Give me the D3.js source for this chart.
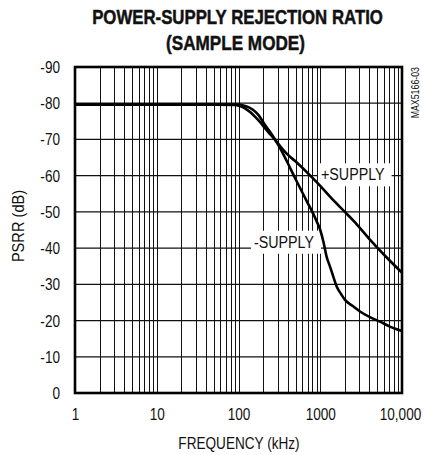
<!DOCTYPE html>
<html>
<head>
<meta charset="utf-8">
<script src="https://cdn.jsdelivr.net/npm/d3@7"></script>
<style>
  html, body { margin: 0; padding: 0; background: #fff; }
  svg { display: block; }
  text { font-family: "Liberation Sans", Arial, sans-serif; fill: #111; }
</style>
</head>
<body>
<svg id="chart" width="424" height="455"></svg>
<script>
// +SUPPLY curve (frequency in kHz, PSRR in dB)
const plusFreq = [1, 10, 50, 90, 104, 120, 140, 159, 185, 211, 245, 280, 322, 400, 500, 750, 1000, 1316, 2000, 2540, 4000, 6500, 10000];
const plusPsrr = [-79.6, -79.6, -79.6, -79.5, -79.2, -78.6, -77.5, -76.3, -74.7, -73.1, -71.4, -69.9, -68.2, -65.8, -63.9, -60.1, -57.2, -54.2, -50.0, -47.6, -42.5, -37.4, -33.2];

// -SUPPLY curve
const minusFreq = [1, 10, 50, 100, 115, 130, 150, 175, 211, 245, 280, 330, 400, 500, 600, 700, 800, 900, 1000, 1100, 1200, 1316, 1450, 1589, 1800, 2009, 2500, 3064, 4000, 5380, 7000, 10000];
const minusPsrr = [-79.6, -79.6, -79.6, -79.6, -79.4, -79.0, -78.2, -76.8, -74.0, -72.0, -70.0, -67.2, -63.5, -59.0, -55.5, -52.5, -50.0, -47.5, -45.0, -41.5, -37.5, -34.9, -32.0, -29.4, -27.3, -25.7, -24.0, -22.5, -21.0, -19.7, -18.4, -17.1];

const xTickValues = [1, 10, 100, 1000, 10000];
const xTickLabels = ["1", "10", "100", "1000", "10,000"];
const yTickValues = [0, -10, -20, -30, -40, -50, -60, -70, -80, -90];

// Series labels: text, position (kHz, dB)
const seriesLabels = [
  { text: "+SUPPLY", f: 2500, db: -60.4 },
  { text: "-SUPPLY", f: 360, db: -41.8 },
];

// the original uses a condensed face; squeeze the installed one horizontally
const NARROW = 0.8;
function condense(sel, ratio) {
  sel.each(function () {
    const el = d3.select(this);
    const x0 = +el.attr("x") || 0;
    const t = el.attr("transform") || "";
    el.attr("transform", `${t} scale(${ratio},1)`).attr("x", x0 / ratio);
  });
}
// squeeze to an exact width
function fitWidth(sel, width) {
  sel.each(function () {
    condense(d3.select(this), width / this.getComputedTextLength());
  });
}

const svg = d3.select("#chart");

const x = d3.scaleLog().domain([1, 10000]).range([75, 402]);
const y = d3.scaleLinear().domain([0, -90]).range([393, 67]);

// Title
svg.append("text")
  .attr("transform", "translate(237.5,24)")
  .attr("text-anchor", "middle")
  .attr("font-size", 21).attr("font-weight", "bold")
  .attr("stroke", "#111").attr("stroke-width", 0.5)
  .text("POWER-SUPPLY REJECTION RATIO")
  .call(fitWidth, 291);

svg.append("text")
  .attr("transform", "translate(235.5,50)")
  .attr("text-anchor", "middle")
  .attr("font-size", 21).attr("font-weight", "bold")
  .attr("stroke", "#111").attr("stroke-width", 0.5)
  .text("(SAMPLE MODE)")
  .call(fitWidth, 139);

// Grid
const grid = svg.append("g").attr("stroke", "#111").attr("stroke-width", 1);

grid.selectAll("line.v")
  .data(x.ticks())
  .join("line")
  .attr("class", "v")
  .attr("x1", d => Math.round(x(d)) + 0.5).attr("x2", d => Math.round(x(d)) + 0.5)
  .attr("y1", y(-90)).attr("y2", y(0));

grid.selectAll("line.h")
  .data(yTickValues)
  .join("line")
  .attr("class", "h")
  .attr("x1", x(1)).attr("x2", x(10000))
  .attr("y1", d => y(d)).attr("y2", d => y(d))
  .attr("stroke-width", 1.3);

// Series labels with white boxes over the grid (curves drawn on top)
const LABEL_SQUEEZE = 0.84;
const labels = svg.append("g")
  .selectAll("g")
  .data(seriesLabels)
  .join("g")
  .attr("transform", d => `translate(${x(d.f)},${y(d.db)})`);

labels.append("text")
  .attr("text-anchor", "middle")
  .attr("dy", "0.36em")
  .attr("font-size", 17)
  .text(d => d.text)
  .each(function () {
    const b = this.getBBox();
    d3.select(this.parentNode).insert("rect", "text")
      .attr("x", b.x * LABEL_SQUEEZE - 3).attr("y", b.y - 2)
      .attr("width", b.width * LABEL_SQUEEZE + 10).attr("height", b.height + 4)
      .attr("fill", "#fff");
  })
  .call(condense, LABEL_SQUEEZE);

// Curves
const line = d3.line()
  .x(d => x(d[0]))
  .y(d => y(d[1]))
  .curve(d3.curveMonotoneX);

const curves = [
  d3.zip(plusFreq, plusPsrr),
  d3.zip(minusFreq, minusPsrr),
];

svg.append("g")
  .selectAll("path")
  .data(curves)
  .join("path")
  .attr("d", line)
  .attr("fill", "none")
  .attr("stroke", "#000")
  .attr("stroke-width", 2.6)
  .attr("stroke-linejoin", "round");

// Frame
svg.append("rect")
  .attr("x", x(1)).attr("y", y(-90))
  .attr("width", x(10000) - x(1)).attr("height", y(0) - y(-90))
  .attr("fill", "none")
  .attr("stroke", "#000")
  .attr("stroke-width", 2.6);

// Axes
const yAxis = svg.append("g")
  .attr("transform", `translate(${x(1)},0)`)
  .call(d3.axisLeft(y).tickValues(yTickValues).tickSize(0).tickPadding(15).tickFormat(d => String(d)));

const xAxis = svg.append("g")
  .attr("transform", `translate(0,${y(0)})`)
  .call(d3.axisBottom(x).tickValues(xTickValues).tickSize(0).tickPadding(15)
    .tickFormat((d, i) => xTickLabels[i]));

// keep the last label inside the page
xAxis.selectAll("text").filter(d => d === 10000).attr("x", -2);

[yAxis, xAxis].forEach(a => {
  a.attr("font-family", null).attr("font-size", null);
  a.select(".domain").remove();
  a.selectAll("text").attr("font-size", 17).attr("fill", "#111").call(condense, NARROW);
});

// Axis titles
svg.append("text")
  .attr("x", 239).attr("y", 449)
  .attr("text-anchor", "middle")
  .attr("font-size", 17)
  .text("FREQUENCY (kHz)")
  .call(condense, NARROW);

svg.append("text")
  .attr("transform", "translate(24,226) rotate(-90)")
  .attr("text-anchor", "middle")
  .attr("font-size", 17)
  .text("PSRR (dB)")
  .call(condense, 0.86);

// Figure code
svg.append("text")
  .attr("transform", "translate(419,67) rotate(-90)")
  .attr("text-anchor", "end")
  .attr("font-size", 11)
  .attr("fill", "#333")
  .text("MAX5166-03")
  .call(condense, 0.8);
</script>
</body>
</html>
